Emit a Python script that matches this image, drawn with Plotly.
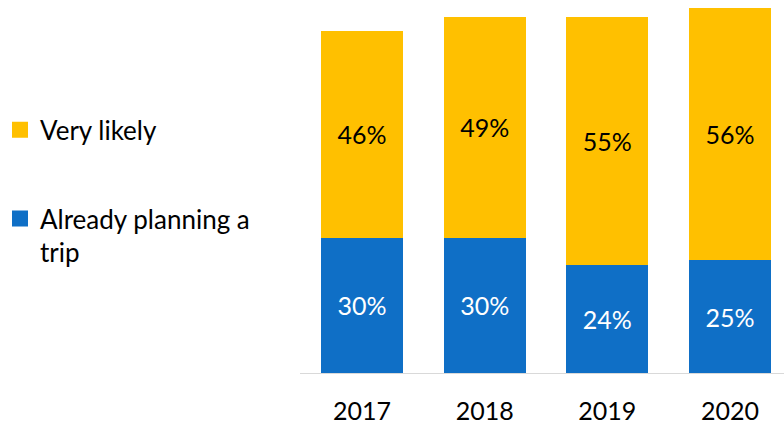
import plotly.graph_objects as go

years = ["2017", "2018", "2019", "2020"]
already_planning = [30, 30, 24, 25]
very_likely = [46, 49, 55, 56]

BLUE = "#0F6FC6"
YELLOW = "#FFC000"
FONT = "Lato, Carlito, Calibri, sans-serif"

fig = go.Figure()

# stacked bars: planning at the bottom, very likely on top
fig.add_trace(go.Bar(
    x=years, y=already_planning, name="Already planning a trip",
    marker=dict(color=BLUE, line=dict(width=0)),
    text=[f"{v}%" for v in already_planning], textposition="inside",
    insidetextanchor="middle", textangle=0,
    textfont=dict(color="white", size=25, family=FONT),
    showlegend=False, hoverinfo="skip",
))
fig.add_trace(go.Bar(
    x=years, y=very_likely, name="Very likely",
    marker=dict(color=YELLOW, line=dict(width=0)),
    text=[f"{v}%" for v in very_likely], textposition="inside",
    insidetextanchor="middle", textangle=0,
    textfont=dict(color="black", size=25, family=FONT),
    showlegend=False, hoverinfo="skip",
))

# legend entries with square swatches
fig.add_trace(go.Scatter(
    x=[None], y=[None], mode="markers", name="Very likely",
    marker=dict(symbol="square", size=16, color=YELLOW),
    legendgroup="a", showlegend=True,
))
fig.add_trace(go.Scatter(
    x=[None], y=[None], mode="markers", name="Already planning a<br>trip",
    marker=dict(symbol="square", size=16, color=BLUE),
    legendgroup="b", showlegend=True,
))

fig.update_layout(
    width=784, height=425,
    margin=dict(l=300, r=0, t=0, b=52),
    plot_bgcolor="white", paper_bgcolor="white",
    barmode="stack", bargap=0.333,
    font=dict(family=FONT, size=25, color="black"),
    legend=dict(
        xref="container", yref="container",
        x=0.0, y=0.75, xanchor="left", yanchor="top",
        font=dict(size=26, family=FONT),
        traceorder="grouped", tracegroupgap=52,
        itemsizing="trace", valign="top",
        bgcolor="rgba(0,0,0,0)",
    ),
    xaxis=dict(
        type="category", range=[-0.505, 3.44],
        showgrid=False, zeroline=False,
        showline=True, linecolor="#D9D9D9", linewidth=1,
        ticks="outside", ticklen=16, tickcolor="rgba(0,0,0,0)",
        tickfont=dict(size=25, family=FONT, color="black"),
        fixedrange=True,
    ),
    yaxis=dict(
        range=[0, 82.8], visible=False, showgrid=False, zeroline=False,
        fixedrange=True,
    ),
)

fig.write_html("out.html")
